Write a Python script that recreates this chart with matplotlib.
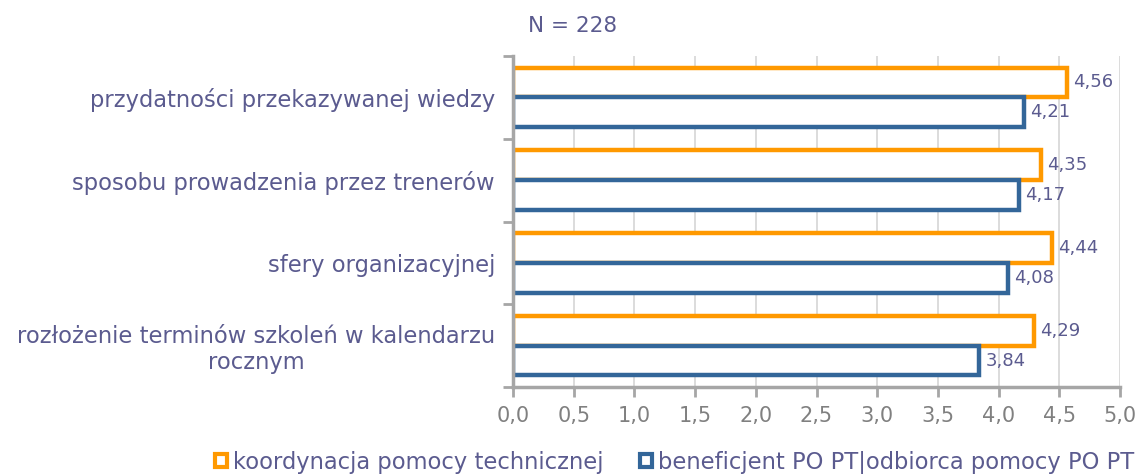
import numpy as np
import matplotlib.pyplot as plt
from matplotlib.patches import Patch

categories = [
    'przydatności przekazywanej wiedzy',
    'sposobu prowadzenia przez trenerów',
    'sfery organizacyjnej',
    'rozłożenie terminów szkoleń w kalendarzu\nrocznym',
]
koordynacja = [4.56, 4.35, 4.44, 4.29]
beneficjent = [4.21, 4.17, 4.08, 3.84]
series_names = ['koordynacja pomocy technicznej', 'beneficjent PO PT|odbiorca pomocy PO PT']
xticks = np.arange(0, 5.01, 0.5)

ORANGE = '#ff9900'
BLUE = '#336699'
TXT = '#5b5b8f'
AXC = '#a6a6a6'

fig = plt.figure(figsize=(11.47, 4.76), dpi=100)
ax = fig.add_axes([513 / 1147, 1 - 387 / 476, 607 / 1147, 331 / 476])

y = np.arange(len(categories))[::-1].astype(float)
h = 0.36
ax.barh(y + h / 2, koordynacja, height=h, facecolor='white', edgecolor=ORANGE, linewidth=3.2, zorder=3)
ax.barh(y - h / 2, beneficjent, height=h, facecolor='white', edgecolor=BLUE, linewidth=3.2, zorder=3)

# etykiety wartosci
for yi, v in zip(y, koordynacja):
    ax.text(v + 0.05, yi + h / 2, f'{v:.2f}'.replace('.', ','), va='center', ha='left',
            color=TXT, fontsize=13, zorder=4)
for yi, v in zip(y, beneficjent):
    ax.text(v + 0.05, yi - h / 2, f'{v:.2f}'.replace('.', ','), va='center', ha='left',
            color=TXT, fontsize=13, zorder=4)

ax.set_xlim(0, 5)
ax.set_ylim(-0.5, len(categories) - 0.5)
ax.set_xticks(xticks)
ax.set_xticklabels([f'{t:.1f}'.replace('.', ',') for t in xticks], color='#808080', fontsize=15)
ax.set_yticks(y)
ax.set_yticklabels(categories, color=TXT, fontsize=16.3, ha='right', multialignment='center',
                   linespacing=1.15)
ax.tick_params(axis='y', length=0, pad=13)
ax.set_yticks(np.arange(-0.5, len(categories), 1.0), minor=True)
ax.tick_params(axis='y', which='minor', length=7, width=2, color=AXC)
ax.tick_params(axis='x', length=7, width=2, color=AXC, pad=7)

ax.grid(axis='x', color='#d9d9d9', linewidth=1.3, zorder=0)
ax.set_axisbelow(True)
for s in ['top', 'right']:
    ax.spines[s].set_visible(False)
for s in ['left', 'bottom']:
    ax.spines[s].set_color(AXC)
    ax.spines[s].set_linewidth(2.5)
    ax.spines[s].set_zorder(5)

fig.text(528 / 1147, 1 - 26 / 476, 'N = 228', color=TXT, fontsize=15.5, va='center', ha='left')

handles = [Patch(facecolor='white', edgecolor=ORANGE, linewidth=3),
           Patch(facecolor='white', edgecolor=BLUE, linewidth=3)]
fig.legend(handles, series_names, loc='center', bbox_to_anchor=(0.588, 1 - 462 / 476), ncol=2,
           frameon=False, fontsize=16.3, labelcolor=TXT, handlelength=0.55, handleheight=0.55,
           handletextpad=0.25, columnspacing=1.6)

fig.savefig('out.png', dpi=100)
